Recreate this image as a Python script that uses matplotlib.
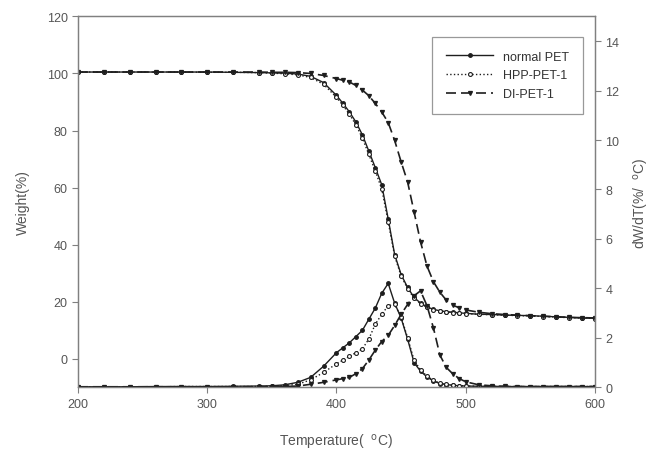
import numpy as np
import matplotlib
matplotlib.use("Agg")
import matplotlib.pyplot as plt

plt.rcParams['font.family'] = ['Liberation Sans', 'DejaVu Sans']

# temperature grid (deg C) shared by all series
temp = [200, 220, 240, 260, 280, 300, 320, 340, 350, 360, 370, 380, 390, 400,
        405, 410, 415, 420, 425, 430, 435, 440, 445, 450, 455, 460, 465, 470,
        475, 480, 485, 490, 495, 500, 510, 520, 530, 540, 550, 560, 570, 580,
        590, 600]

# weight (%) -- TG curves
tg_normal = [100.5, 100.5, 100.5, 100.5, 100.5, 100.5, 100.4, 100.3, 100.2, 100.1,
             99.8, 99.0, 96.8, 92.3, 89.5, 86.5, 83.0, 78.5, 72.8, 67.0, 61.0,
             49.0, 36.5, 29.5, 25.0, 21.5, 19.5, 18.2, 17.3, 16.8, 16.5, 16.3,
             16.1, 15.9, 15.6, 15.5, 15.3, 15.2, 15.1, 14.9, 14.7, 14.5, 14.3, 14.2]
tg_hpp = [100.5, 100.5, 100.5, 100.5, 100.5, 100.4, 100.4, 100.3, 100.1, 99.9,
          99.5, 98.6, 96.2, 91.6, 88.8, 85.7, 82.0, 77.4, 71.6, 65.8, 59.5,
          48.0, 36.0, 29.0, 24.6, 21.2, 19.3, 18.0, 17.2, 16.7, 16.4, 16.2,
          16.0, 15.8, 15.6, 15.4, 15.3, 15.1, 15.0, 14.8, 14.6, 14.4, 14.3, 14.1]
tg_di = [100.5, 100.5, 100.5, 100.5, 100.5, 100.5, 100.5, 100.5, 100.4, 100.4,
         100.3, 100.0, 99.3, 98.2, 97.6, 97.0, 95.8, 94.2, 92.2, 89.5, 86.5,
         82.8, 76.5, 69.0, 62.0, 51.5, 41.0, 32.5, 27.0, 23.3, 20.5, 18.8,
         17.8, 17.1, 16.3, 15.8, 15.5, 15.3, 15.1, 14.9, 14.7, 14.5, 14.4, 14.3]

# derivative weight (%/deg C) -- DTG curves
dtg_normal = [0.02, 0.02, 0.02, 0.03, 0.03, 0.03, 0.04, 0.05, 0.06, 0.1, 0.2,
              0.4, 0.85, 1.4, 1.6, 1.8, 2.05, 2.3, 2.75, 3.2, 3.8, 4.2, 3.4,
              2.8, 1.95, 1.0, 0.65, 0.42, 0.25, 0.15, 0.11, 0.08, 0.06, 0.05,
              0.04, 0.04, 0.03, 0.03, 0.03, 0.03, 0.03, 0.03, 0.03, 0.03]
dtg_hpp = [0.02, 0.02, 0.02, 0.02, 0.03, 0.03, 0.03, 0.03, 0.04, 0.07, 0.12,
           0.3, 0.6, 0.95, 1.1, 1.25, 1.4, 1.55, 1.95, 2.55, 2.95, 3.3, 3.35,
           2.85, 2.0, 1.1, 0.7, 0.45, 0.28, 0.17, 0.12, 0.09, 0.07, 0.05,
           0.04, 0.04, 0.03, 0.03, 0.03, 0.03, 0.03, 0.03, 0.03, 0.03]
dtg_di = [0.02, 0.02, 0.02, 0.02, 0.02, 0.02, 0.02, 0.02, 0.02, 0.03, 0.05,
          0.12, 0.2, 0.3, 0.35, 0.4, 0.55, 0.75, 1.1, 1.5, 1.85, 2.1, 2.5,
          2.95, 3.35, 3.7, 3.9, 3.3, 2.4, 1.3, 0.8, 0.54, 0.35, 0.22, 0.1,
          0.06, 0.04, 0.03, 0.03, 0.03, 0.03, 0.03, 0.03, 0.03]

names = ['normal PET', 'HPP-PET-1', 'DI-PET-1']

ink = '#1e1e1e'
grey = '#555555'

fig = plt.figure(figsize=(6.52, 4.52), dpi=100)
ax = fig.add_axes([0.1196, 0.141, 0.7930, 0.8205])
ax2 = ax.twinx()

# TG curves on the left axis
h1, = ax.plot(temp, tg_normal, '-', color=ink, lw=1.0, marker='o', ms=2.5,
              mfc=ink, mec=ink, label=names[0])
h2, = ax.plot(temp, tg_hpp, ':', color=ink, lw=1.0, marker='o', ms=2.8,
              mfc='white', mec=ink, mew=0.8, label=names[1])
h3, = ax.plot(temp, tg_di, color=ink, lw=1.2, ls=(0, (6, 3)), marker='v', ms=2.8,
              mfc=ink, mec=ink, label=names[2])

# DTG curves on the right axis
ax2.plot(temp, dtg_normal, '-', color=ink, lw=1.0, marker='o', ms=2.5,
         mfc=ink, mec=ink)
ax2.plot(temp, dtg_hpp, ':', color=ink, lw=1.0, marker='o', ms=2.8,
         mfc='white', mec=ink, mew=0.8)
ax2.plot(temp, dtg_di, color=ink, lw=1.2, ls=(0, (6, 3)), marker='v', ms=2.8,
         mfc=ink, mec=ink)

ax.set_xlim(200, 600)
ax.set_ylim(-10, 120)
ax.set_xticks([200, 300, 400, 500, 600])
ax.set_yticks([0, 20, 40, 60, 80, 100, 120])
ax2.set_ylim(0, 15)
ax2.set_yticks([0, 2, 4, 6, 8, 10, 12, 14])

for a in (ax, ax2):
    for s in a.spines.values():
        s.set_color('#808080')
        s.set_linewidth(0.9)
    a.tick_params(direction='out', length=4, width=0.8, colors='#808080',
                  labelcolor=grey, labelsize=9)

ax.set_xlabel('Temperature(  $^{\\mathrm{o}}$C)', color=grey, fontsize=10, labelpad=16)
ax.set_ylabel('Weight(%)', color=grey, fontsize=10, labelpad=12)
ax2.set_ylabel('dW/dT(%/  $^{\\mathrm{o}}$C)', color=grey, fontsize=10, labelpad=9)

leg = ax.legend(handles=[h1, h2, h3], loc='upper right',
                bbox_to_anchor=(0.977, 0.945), borderaxespad=0, fontsize=9,
                frameon=True, fancybox=False, handlelength=3.8, borderpad=1.1,
                labelspacing=0.55, handletextpad=0.8)
leg.get_frame().set_edgecolor('#808080')
leg.get_frame().set_linewidth(0.9)
for t in leg.get_texts():
    t.set_color('#333333')

fig.savefig('out.png', dpi=100)
